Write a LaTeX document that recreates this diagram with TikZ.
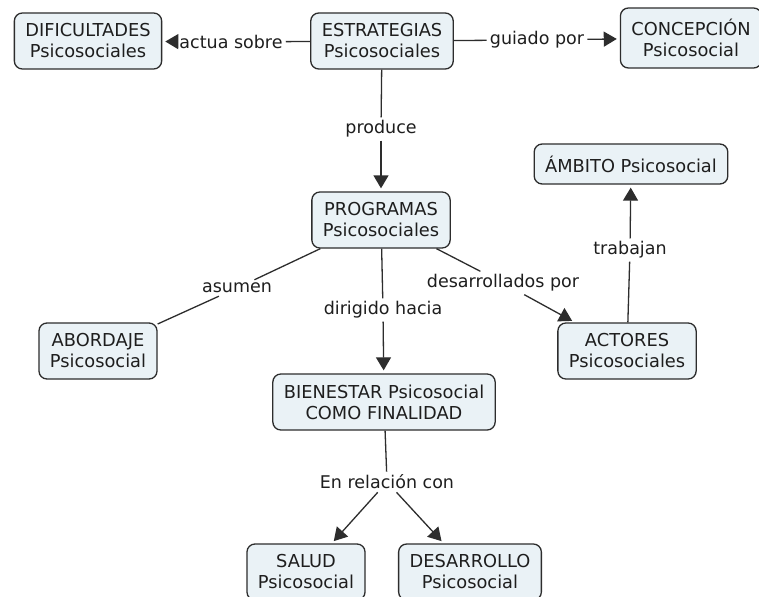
\documentclass[tikz,border=0pt]{standalone}
\usepackage{fontspec}
\setmainfont{DejaVu Sans}
\usepackage{tikz}
\usetikzlibrary{arrows.meta}
\definecolor{cmapfill}{RGB}{234,242,246}
\definecolor{cmapline}{RGB}{45,45,45}
\definecolor{cmaptext}{RGB}{30,30,30}
\tikzset{
  concept/.style={draw=cmapline, fill=cmapfill, text=cmaptext, line width=1.3pt,
    rounded corners=8pt, align=center, inner xsep=11pt, inner ysep=4pt,
    minimum height=56pt, font=\fontsize{17.8}{21}\selectfont},
  linkword/.style={text=cmaptext, inner sep=3pt, font=\fontsize{17.5}{21}\selectfont},
  conn/.style={draw=cmapline, line width=1.3pt},
  connarrow/.style={conn, -{Triangle[length=13pt,width=15pt]}, shorten >=3pt}
}

\begin{document}
\begin{tikzpicture}[x=1pt, y=-1pt]
        \useasboundingbox[fill=white] (0,0) rectangle (759,596);
        \node[concept] (dificultades) at (88, 41) {DIFICULTADES\\Psicosociales};
        \node[concept] (estrategias) at (382, 41) {ESTRATEGIAS\\Psicosociales};
        \node[concept, minimum height=60pt] (concepcion) at (691, 38) {CONCEPCIÓN\\Psicosocial};
        \node[concept, minimum height=40pt] (ambito) at (631, 164) {ÁMBITO Psicosocial};
        \node[concept] (programas) at (381, 220) {PROGRAMAS\\Psicosociales};
        \node[concept] (abordaje) at (98, 351) {ABORDAJE\\Psicosocial};
        \node[concept] (actores) at (627, 351) {ACTORES\\Psicosociales};
        \node[concept] (bienestar) at (384, 402) {BIENESTAR Psicosocial\\COMO FINALIDAD};
        \node[concept] (salud) at (306, 572) {SALUD\\Psicosocial};
        \node[concept] (desarrollo) at (470, 572) {DESARROLLO\\Psicosocial};

        \node[linkword] (actua) at (231, 42) {actua sobre};
        \node[linkword] (guiado) at (537, 40) {guiado por};
        \node[linkword] (produce) at (381, 129) {produce};
        \node[linkword] (asumen) at (237, 288) {asumen};
        \node[linkword] (dirigido) at (383, 310) {dirigido hacia};
        \node[linkword] (desarrollados) at (503, 283) {desarrollados por};
        \node[linkword] (trabajan) at (630, 250) {trabajan};
        \node[linkword] (relacion) at (387, 482) {En relación con};

        \draw[conn] (estrategias) -- (actua);
        \draw[connarrow] (actua) -- (dificultades);
        \draw[conn] (estrategias) -- (guiado);
        \draw[connarrow] (guiado) -- (concepcion);
        \draw[conn] (estrategias) -- (produce);
        \draw[connarrow] (produce) -- (programas);
        \draw[conn] (programas) -- (asumen);
        \draw[conn] (asumen) -- (abordaje);
        \draw[conn] (programas) -- (dirigido);
        \draw[connarrow] (dirigido) -- (bienestar);
        \draw[conn] (programas) -- (desarrollados);
        \draw[connarrow] (desarrollados) -- (actores);
        \draw[conn] (actores) -- (trabajan);
        \draw[connarrow] (trabajan) -- (ambito);
        \draw[conn] (bienestar) -- (relacion);
        \draw[connarrow] (relacion) -- (salud);
        \draw[connarrow] (relacion) -- (desarrollo);
\end{tikzpicture}
\end{document}
